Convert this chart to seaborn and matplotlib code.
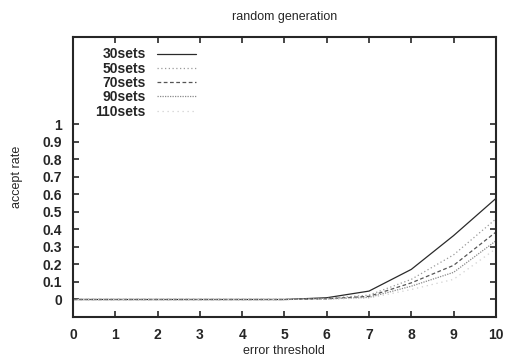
import numpy as np
import pandas as pd
import seaborn as sns
import matplotlib
matplotlib.use("Agg")
import matplotlib.pyplot as plt

# ===== data =====
thresholds = [0, 1, 2, 3, 4, 5, 6, 7, 8, 9, 10]
set_names = ["30sets", "50sets", "70sets", "90sets", "110sets"]
rate_30 = [0, 0, 0, 0, 0, 0, 0.010, 0.048, 0.172, 0.365, 0.577]
rate_50 = [0, 0, 0, 0, 0, 0, 0.006, 0.025, 0.115, 0.255, 0.460]
rate_70 = [0, 0, 0, 0, 0, 0, 0.004, 0.018, 0.095, 0.195, 0.385]
rate_90 = [0, 0, 0, 0, 0, 0, 0.003, 0.012, 0.076, 0.155, 0.335]
rate_110 = [0, 0, 0, 0, 0, 0, 0.002, 0.008, 0.057, 0.115, 0.290]
y_ticks = [0, 0.1, 0.2, 0.3, 0.4, 0.5, 0.6, 0.7, 0.8, 0.9, 1]

rows = []
for name, vals in zip(set_names, [rate_30, rate_50, rate_70, rate_90, rate_110]):
    for x, v in zip(thresholds, vals):
        rows.append({"threshold": x, "rate": v, "sets": name})
df = pd.DataFrame(rows)

sns.set_style("ticks")
plt.rcParams['font.family'] = ['Liberation Sans', 'DejaVu Sans']

fig = plt.figure(figsize=(5.07, 3.59), dpi=100)
ax = fig.add_axes([0.144, 0.117, 0.834, 0.78])

palette = {"30sets": "#2a2a2a", "50sets": "#9a9a9a", "70sets": "#555555",
           "90sets": "#8a8a8a", "110sets": "#d0d0d0"}
dashes = {"30sets": "", "50sets": (1, 2), "70sets": (3, 2),
          "90sets": (1, 1), "110sets": (1, 3)}

sns.lineplot(data=df, x="threshold", y="rate", hue="sets", style="sets",
             palette=palette, dashes=dashes, linewidth=0.9, ax=ax)

ax.set_xlim(0, 10)
ax.set_ylim(-0.1, 1.5)
ax.set_xticks(thresholds)
ax.set_yticks(y_ticks)
ax.set_yticklabels([f"{t:g}" for t in y_ticks])
ax.tick_params(direction="in", length=4, width=1.2, top=True, right=True,
               labelsize=10, pad=8)
for lab in ax.get_xticklabels() + ax.get_yticklabels():
    lab.set_fontweight("bold")
for sp in ax.spines.values():
    sp.set_linewidth(1.5)

ax.set_xlabel("error threshold", fontsize=9, labelpad=2)
ax.set_ylabel("accept rate", fontsize=9, labelpad=14)
ax.set_title("random generation", fontsize=9, pad=12)

leg = ax.legend(loc="upper left", bbox_to_anchor=(0.028, 1.0), frameon=False,
                markerfirst=False, fontsize=10, handlelength=2.8,
                labelspacing=0.02, handletextpad=0.8, borderaxespad=0.35)
for t in leg.get_texts():
    t.set_fontweight("bold")
    t.set_horizontalalignment("right")
leg._legend_box.align = "right"

fig.savefig("out.png", dpi=100)
